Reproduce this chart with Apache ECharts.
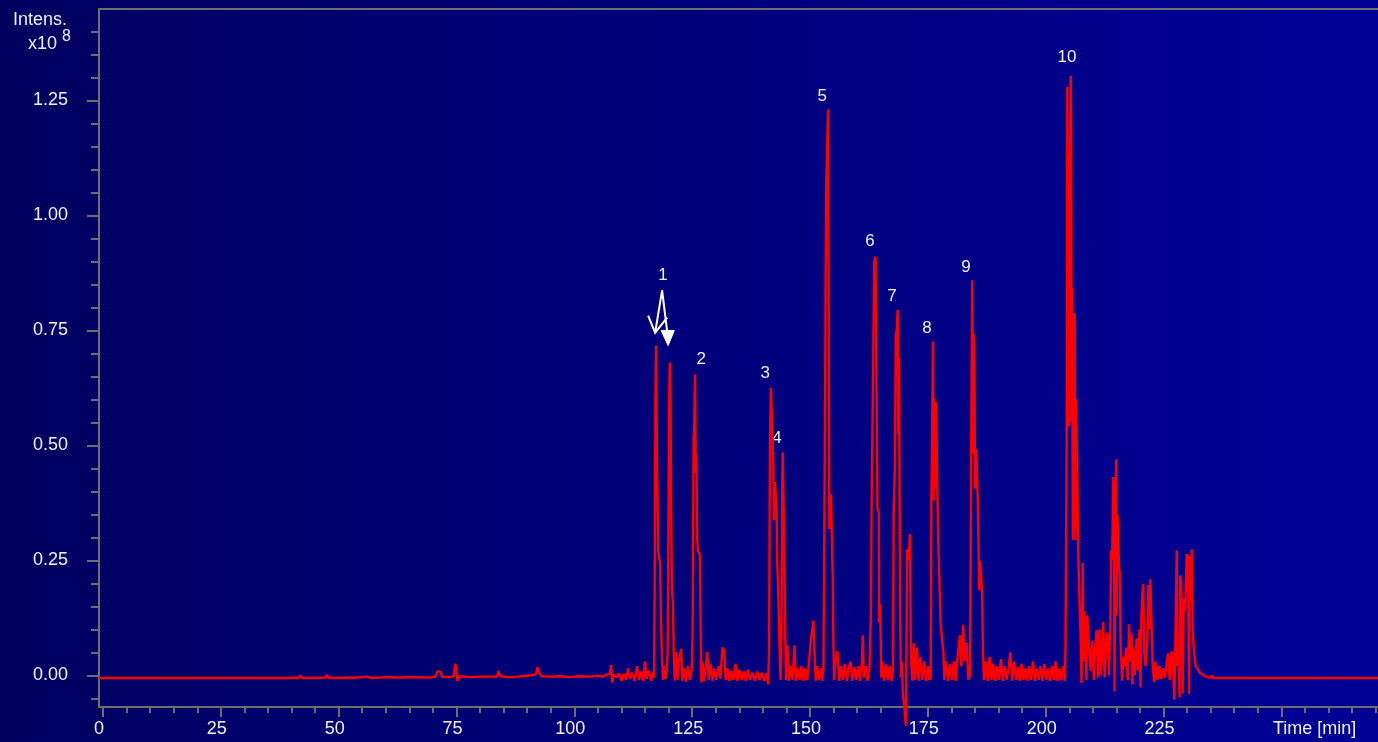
<!DOCTYPE html>
<html>
<head>
<meta charset="utf-8">
<script src="https://cdn.jsdelivr.net/npm/echarts@6/dist/echarts.min.js"></script>
<style>
html,body{margin:0;padding:0;background:#000066;}
#chart{width:1378px;height:742px;}
</style>
</head>
<body>
<div id="chart"></div>
<script>
// ---- DATA (time in min, intensity in units of 1e8) ----
var baseLead = [[-0.85,-0.006],[40,-0.006],[41.5,-0.006],[41.8,0.0],[42.2,-0.006],[47.2,-0.005],[47.5,0.001],[47.9,-0.006],[54,-0.005],[56,-0.003],[57,-0.006],[60,-0.004],[63,-0.005],[66,-0.004],[69,-0.005],[70.5,-0.003],[71,0.009],[71.6,0.008],[72,-0.004],[74.4,-0.003],[74.7,0.025],[75,0.014],[75.2,-0.012],[75.5,-0.002],[78,-0.004],[80,-0.003],[83.6,-0.003],[83.9,0.009],[84.3,-0.002],[86,-0.004],[88,-0.003],[90,-0.001],[91.8,0.002],[92.2,0.018],[92.6,0.004],[93,-0.002],[95,-0.003],[97,-0.002],[99,-0.004],[101,-0.002],[103,-0.003],[105,-0.001],[106,-0.003],[107.6,0.005],[107.8,0.022],[108,-0.016],[108.4,0.002],[109,-0.004],
  [109.5,0.004],[110,-0.012],[110.5,0.003],[111,-0.01],[111.4,0.015],[111.8,-0.008],[112.3,0.006],[112.8,-0.012],[113.3,0.02],[113.7,-0.01],[114.2,0.008],[114.6,-0.012],[115.0,0.03],[115.3,-0.008],[115.8,0.01],[116.3,-0.012],[116.7,0.006],[116.9,-0.005]];

var peaks1to4 = [[117.05,0.2],[117.2,0.6],[117.35,0.717],[117.55,0.45],[117.8,0.27],[118.2,0.24],[118.4,0.11],[118.6,0.04],[118.8,-0.01],[119.0,0.02],[119.3,-0.008],[119.6,0.01],
  [119.8,0.05],[120.0,0.4],[120.15,0.62],[120.25,0.68],[120.4,0.6],[120.55,0.35],[120.7,0.19],[120.9,0.16],[121.1,0.04],[121.3,-0.012],[121.6,0.05],[121.9,-0.01],[122.2,0.03],[122.65,0.058],[122.9,-0.012],[123.3,0.015],[123.7,-0.014],[124.1,0.02],[124.5,-0.01],[124.9,0.012],
  [125.1,0.1],[125.3,0.51],[125.45,0.55],[125.6,0.654],[125.75,0.44],[125.9,0.48],[126.05,0.3],[126.2,0.27],[126.6,0.265],[126.8,0.1],[126.95,-0.015],[127.2,0.03],[127.5,-0.012],[127.9,0.02],[128.2,0.051],[128.5,-0.01],[128.9,0.025],[129.3,-0.012],[129.7,0.015],[130.1,-0.01],[130.6,0.02],[131.0,-0.008],[131.4,0.06],[131.8,0.055],[132.1,-0.01],[132.5,0.015],[132.9,-0.012],[133.3,0.01],[133.7,-0.01],[134.2,0.025],[134.6,-0.012],[135,0.012],[135.5,-0.01],[135.9,0.008],[136.4,-0.012],[136.8,0.012],[137.3,-0.01],[137.8,0.006],[138.3,-0.012],[138.8,0.008],[139.3,-0.01],[139.8,0.006],[140.3,-0.012],[140.8,0.005],[141.1,-0.02],
  [141.3,0.05],[141.5,0.5],[141.7,0.626],[141.95,0.55],[142.2,0.467],[142.35,0.337],[142.55,0.42],[142.9,0.365],[143.05,0.243],[143.2,0.2],[143.4,0.126],[143.6,0.03],[143.75,-0.01],
  [143.95,0.1],[144.1,0.4],[144.2,0.485],[144.35,0.4],[144.6,0.228],[144.75,0.08],[144.9,-0.01],[145.2,0.065],[145.5,-0.012],[145.9,0.02],[146.3,-0.01],[146.7,0.065],[147.0,-0.012],[147.4,0.015],[147.8,-0.01],[148.2,0.02],[148.6,-0.012],[149.0,0.015],[149.4,-0.01],[149.8,0.03],[150.2,0.079],[150.5,0.1],[150.7,0.119],[150.9,0.06],[151.2,-0.012],[151.5,0.02],[151.9,-0.01],[152.3,0.015],[152.6,-0.012]];

var peaks5to9 = [[152.85,0.02],[153.2,0.6],[153.4,1.045],[153.55,1.116],[153.83,1.231],[153.95,0.8],[154.1,0.318],[154.3,0.36],[154.46,0.393],[154.6,0.314],[154.82,0.212],[154.96,0.07],[155.1,-0.01],[155.4,0.03],[155.8,0.052],[156.2,-0.012],[156.6,0.02],[157.0,-0.01],[157.4,0.025],[157.8,-0.012],[158.2,0.015],[158.6,0.03],[159.0,-0.012],[159.4,0.018],[159.8,-0.01],[160.2,0.02],[160.6,-0.012],[161.0,0.03],[161.2,0.087],[161.4,-0.005],[161.8,0.02],[162.2,-0.012],[162.6,0.015],
  [162.9,0.124],[163.1,0.406],[163.4,0.672],[163.6,0.899],[163.9,0.91],[164.2,0.914],[164.3,0.363],[164.6,0.354],[164.65,0.115],[164.9,0.154],[165.1,-0.005],[165.4,0.03],[165.7,-0.012],[166.1,0.025],[166.5,-0.01],[166.9,0.02],[167.3,-0.012],[167.6,0.01],
  [167.75,0.363],[168.0,0.452],[168.2,0.743],[168.4,0.75],[168.6,0.795],[168.7,0.526],[168.9,0.69],[169.1,0.14],[169.3,-0.005],[169.5,0.03],[169.7,-0.04],[170.0,-0.07],[170.35,-0.11],[170.6,0.274],[170.9,0.25],[171.2,0.307],[171.4,0.04],[171.7,-0.012],[172.0,0.07],[172.3,-0.01],[172.7,0.06],[173.0,-0.012],[173.4,0.04],[173.8,-0.01],[174.2,0.03],[174.6,-0.012],[175.0,0.02],[175.3,-0.01],
  [175.6,-0.005],[175.75,0.38],[175.95,0.584],[176.1,0.726],[176.2,0.38],[176.35,0.602],[176.5,0.406],[176.6,0.595],[176.8,0.584],[177.0,0.406],[177.2,0.291],[177.5,0.29],[177.7,0.114],[178.0,0.079],[178.3,0.05],[178.5,-0.01],[178.9,0.03],[179.3,-0.012],[179.7,0.025],[180.1,-0.01],[180.5,0.03],[180.9,-0.012],[181.3,0.04],[181.8,0.087],[182.1,0.02],[182.5,0.11],[182.8,0.03],[183.2,0.07],[183.6,-0.01],
  [183.95,0.0],[184.2,0.495],[184.4,0.859],[184.6,0.482],[184.7,0.743],[184.9,0.672],[185.0,0.406],[185.3,0.491],[185.6,0.372],[185.9,0.185],[186.1,0.248],[186.5,0.18],[186.7,0.052],[186.9,-0.01],
  [187.3,0.03],[187.7,-0.012],[188.1,0.04],[188.5,-0.01],[188.9,0.025],[189.3,-0.012],[189.7,0.02],[190.1,-0.01],[190.5,0.035],[190.9,-0.012],[191.3,0.02],[191.7,-0.01],[192.1,0.015],[192.5,0.05],[192.9,-0.012],[193.3,0.03],[193.7,-0.01],[194.1,0.018],[194.5,-0.012],[194.9,0.025],[195.3,-0.01],[195.7,0.015],[196.1,-0.012],[196.5,0.02],[196.9,-0.01],[197.3,0.03],[197.7,-0.012],[198.1,0.015],[198.5,-0.01],[198.9,0.02],[199.3,-0.012],[199.7,0.025],[200.1,-0.01],[200.5,0.015],[200.9,-0.012],[201.3,0.02],[201.7,-0.01],[202.1,0.03],[202.5,-0.012],[202.9,0.015],[203.3,-0.01],[203.7,0.02],[204.0,-0.012]];

var peak10Tail = [[204.1,-0.005],[204.2,0.066],[204.45,0.514],[204.6,1.28],[204.87,1.283],[204.95,0.541],[205.1,1.0],[205.3,1.304],[205.4,1.2],[205.5,0.55],[205.6,0.843],[205.75,0.294],[205.9,0.5],[206.15,0.788],[206.3,0.294],[206.45,0.6],[206.7,0.437],[206.9,0.259],[207.2,0.257],[207.4,0.085],[207.6,-0.017],[207.85,0.244],[208.0,0.03],[208.2,0.139],[208.5,0.135],[208.65,-0.01],[208.8,0.13],[209.2,0.127],[209.5,0.01],[209.9,0.075],[210.2,-0.01],[210.5,0.06],[210.8,0.098],[211.1,-0.005],[211.4,0.1],[211.7,0.0],[212.0,0.05],[212.2,0.116],[212.5,-0.005],[212.8,0.07],[213.1,0.093],[213.4,0.0],[213.7,0.1],[213.9,0.272],[214.1,0.25],[214.35,0.431],[214.5,0.3],[214.6,-0.035],[214.8,0.35],[214.97,0.47],[215.05,0.13],[215.2,0.35],[215.4,0.313],[215.55,0.23],[215.75,0.22],[215.9,0.07],[216.2,-0.012],[216.5,0.04],[216.8,0.02],[217.1,0.06],[217.4,-0.01],[217.7,0.111],[217.9,0.03],[218.2,0.09],[218.4,-0.02],[218.6,0.06],[218.9,0.0],[219.3,0.08],[219.6,0.01],[219.9,0.1],[220.1,-0.026],[220.3,0.13],[220.5,0.176],[220.7,0.198],[220.9,0.05],[221.2,0.02],[221.5,0.06],[221.8,0.196],[222.0,0.1],[222.2,0.209],[222.4,0.13],[222.7,0.02],[223.0,-0.015],[223.3,0.03],[223.7,-0.01],[224.1,0.02],[224.5,-0.008],[224.9,0.015],[225.3,-0.005],[225.7,0.03],[226.0,0.048],[226.3,-0.01],[226.7,0.052],[227.0,0.02],[227.3,-0.053],[227.5,0.07],[227.8,0.272],[227.95,0.02],[228.2,0.05],[228.4,-0.048],[228.55,0.217],[228.75,0.2],[228.9,0.08],[229.05,-0.04],[229.3,0.166],[229.6,0.14],[229.9,0.263],[230.2,0.258],[230.4,-0.04],[230.6,0.26],[230.85,0.16],[231.0,0.274],[231.2,0.09],[231.5,0.052],[231.8,0.02],[232.1,0.02],[232.8,0.005],[233.5,0.0],[234.2,-0.004],[235.0,-0.005],[235.3,0.0],[235.6,-0.006],[270.5,-0.006]];

// peak annotations: [time, intensity, text]
var peakLabels = [[118.8,0.869,'1'],[126.9,0.687,'2'],[140.5,0.656,'3'],[143.0,0.515,'4'],[152.6,1.26,'5'],[162.7,0.943,'6'],[167.4,0.824,'7'],[174.8,0.754,'8'],[183.1,0.887,'9'],[204.5,1.345,'10']];

// arrows from label "1" (data coordinates)
var arrowShafts = [[[118.62,0.837],[117.14,0.745]],[[118.62,0.837],[119.9,0.73]]];
var arrowOpenHead = [[115.65,0.782],[117.14,0.745],[119.68,0.778]];
var arrowFilledHead = [[118.4,0.75],[121.2,0.75],[119.9,0.717]];

var xMajorTicks = [0,25,50,75,100,125,150,175,200,225,250];
var xTickLabels = [0,25,50,75,100,125,150,175,200,225];
var xMinorTicks = [5,10,15,20,30,35,40,45,55,60,65,70,80,85,90,95,105,110,115,120,130,135,140,145,155,160,165,170,180,185,190,195,205,210,215,220,230,235,240,245,255,260,265,270];
var yMajorTicks = [0,0.25,0.5,0.75,1.0,1.25];
var yMinorTicks = [-0.05,0.05,0.1,0.15,0.2,0.3,0.35,0.4,0.45,0.55,0.6,0.65,0.7,0.8,0.85,0.9,0.95,1.05,1.1,1.15,1.2,1.3,1.35,1.4];

var trace = baseLead.concat(peaks1to4, peaks5to9, peak10Tail);

// ---- CHART ----
var AX = '#6e6e6e', TXT = '#f0f0f6', FONT = 'Liberation Sans, Arial, sans-serif';
var xMin = -0.85, xMax = 270.5, yMin = -0.069, yMax = 1.449;
var chart = echarts.init(document.getElementById('chart'));

function xAxisBase(extra) {
  return Object.assign({
    type: 'value', min: xMin, max: xMax, position: 'bottom',
    splitLine: {show: false}, axisLine: {show: false, onZero: false}, axisTick: {show: false}, axisLabel: {show: false}
  }, extra);
}
function yAxisBase(extra) {
  return Object.assign({
    type: 'value', min: yMin, max: yMax, position: 'left',
    splitLine: {show: false}, axisLine: {show: false, onZero: false}, axisTick: {show: false}, axisLabel: {show: false}
  }, extra);
}

var option = {
  animation: false,
  backgroundColor: {type: 'linear', x: 0, y: 0, x2: 1, y2: 0,
    colorStops: [{offset: 0, color: '#000060'}, {offset: 1, color: '#000096'}]},
  textStyle: {fontFamily: FONT},
  grid: {left: 99, right: 0, top: 9, bottom: 35, containLabel: false},
  xAxis: [
    xAxisBase({
      axisLine: {show: true, onZero: false, lineStyle: {color: AX, width: 2}},
      axisTick: {show: true, length: 10, lineStyle: {color: AX, width: 2}, customValues: xMajorTicks},
      axisLabel: {show: true, customValues: xTickLabels, color: TXT, fontSize: 18, fontFamily: FONT, margin: 13,
        padding: [0, 8, 0, 0], formatter: function (v) { return String(v); }}
    }),
    xAxisBase({
      axisTick: {show: true, length: 6, lineStyle: {color: AX, width: 2}, customValues: xMinorTicks}
    }),
    xAxisBase({
      position: 'top',
      axisLine: {show: true, onZero: false, lineStyle: {color: AX, width: 2}}
    })
  ],
  yAxis: [
    yAxisBase({
      axisLine: {show: true, onZero: false, lineStyle: {color: AX, width: 2}},
      axisTick: {show: true, length: 12, lineStyle: {color: AX, width: 2}, customValues: yMajorTicks},
      axisLabel: {show: true, customValues: yMajorTicks, color: TXT, fontSize: 18, fontFamily: FONT, margin: 31,
        formatter: function (v) { return v.toFixed(2); }}
    }),
    yAxisBase({
      axisTick: {show: true, length: 8, lineStyle: {color: AX, width: 2}, customValues: yMinorTicks}
    })
  ],
  series: [
    {
      type: 'line', xAxisIndex: 0, yAxisIndex: 0, data: trace,
      showSymbol: false, symbol: 'none', clip: false, silent: true,
      lineStyle: {color: '#ff0000', width: 2.4}
    },
    {
      type: 'scatter', xAxisIndex: 0, yAxisIndex: 0, silent: true,
      data: peakLabels, symbolSize: 2, itemStyle: {color: 'rgba(0,0,0,0)', opacity: 1},
      label: {show: true, position: 'inside', color: TXT, opacity: 1, fontSize: 17, fontFamily: FONT,
        textBorderWidth: 0, formatter: function (p) { return p.value[2]; }}
    }
  ],
  graphic: [
    {type: 'text', left: 13, top: 11, style: {text: 'Intens.', fill: TXT, font: '18px ' + FONT}},
    {type: 'text', left: 28, top: 35, style: {text: 'x10', fill: TXT, font: '18px ' + FONT}},
    {type: 'text', left: 62, top: 29, style: {text: '8', fill: TXT, font: '16px ' + FONT}},
    {type: 'text', left: 1273, top: 720, style: {text: 'Time [min]', fill: TXT, font: '18px ' + FONT}}
  ]
};
chart.setOption(option);

// arrows, positioned through the axes' scales
function px(p) { return chart.convertToPixel({xAxisIndex: 0, yAxisIndex: 0}, p); }
var arrowGraphics = [];
arrowShafts.forEach(function (s) {
  arrowGraphics.push({type: 'polyline', shape: {points: s.map(px)}, style: {stroke: '#ffffff', lineWidth: 2, fill: null}});
});
arrowGraphics.push({type: 'polyline', shape: {points: arrowOpenHead.map(px)}, style: {stroke: '#ffffff', lineWidth: 2, fill: null}});
arrowGraphics.push({type: 'polygon', shape: {points: arrowFilledHead.map(px)}, style: {fill: '#ffffff', stroke: '#ffffff', lineWidth: 1}});
chart.setOption({graphic: option.graphic.concat(arrowGraphics)});
</script>
</body>
</html>
